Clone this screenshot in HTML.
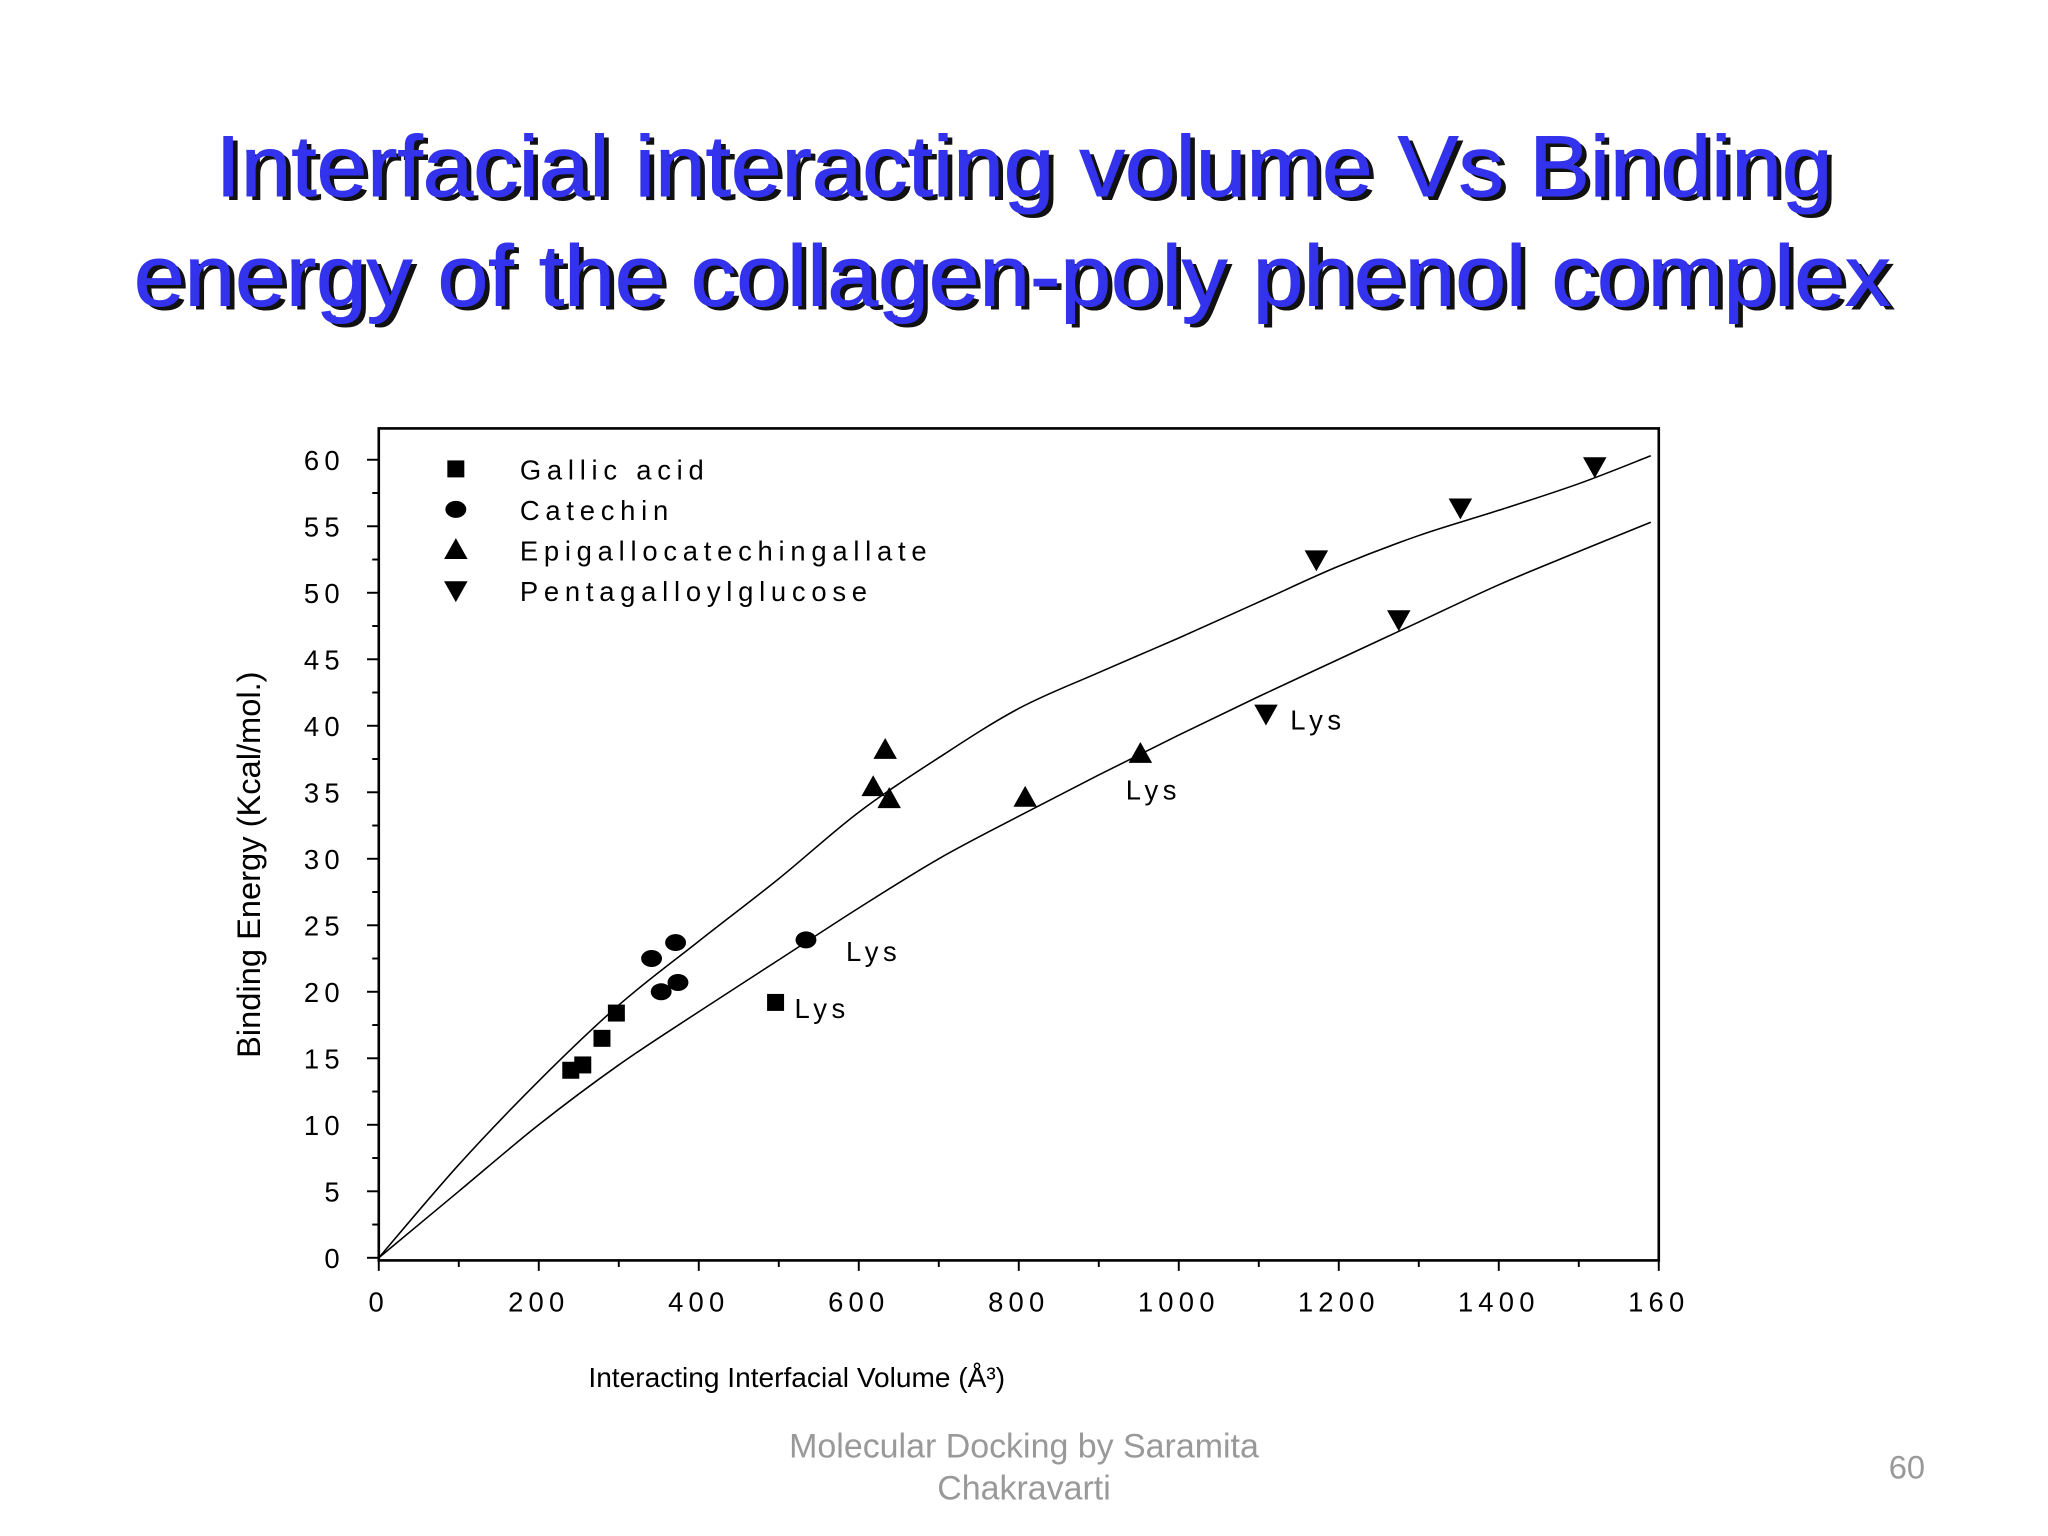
<!DOCTYPE html>
<html><head><meta charset="utf-8"><style>
html,body{margin:0;padding:0;background:#fff;}
svg{display:block;}
.t{font-family:"Liberation Sans",sans-serif;}
</style></head><body>
<svg width="2048" height="1536" viewBox="0 0 1568 1176" xmlns="http://www.w3.org/2000/svg">
<g class="t" font-size="66" text-anchor="middle">
<text x="788" y="153" fill="#111" textLength="1238" lengthAdjust="spacingAndGlyphs">Interfacial interacting volume Vs Binding</text>
<text x="784" y="150" fill="#3333ee" stroke="#3333ee" stroke-width="0.8" textLength="1238" lengthAdjust="spacingAndGlyphs">Interfacial interacting volume Vs Binding</text>
<text x="779" y="237" fill="#111" textLength="1345" lengthAdjust="spacingAndGlyphs">energy of the collagen-poly phenol complex</text>
<text x="775" y="234" fill="#3333ee" stroke="#3333ee" stroke-width="0.8" textLength="1345" lengthAdjust="spacingAndGlyphs">energy of the collagen-poly phenol complex</text>
</g>
<g id="chart"></g>
<text class="t" x="610" y="1062" font-size="21.5" fill="#000" text-anchor="middle">Interacting Interfacial Volume (Å³)</text>
<text class="t" x="199" y="662" font-size="25" fill="#000" text-anchor="middle" transform="rotate(-90 199 662)">Binding Energy (Kcal/mol.)</text>
<text class="t" x="784" y="1116" font-size="26" fill="#999" text-anchor="middle">Molecular Docking by Saramita</text>
<text class="t" x="784" y="1148" font-size="26" fill="#999" text-anchor="middle">Chakravarti</text>
<text class="t" x="1460" y="1132" font-size="25" fill="#999" text-anchor="middle">60</text>
</svg>
<script>
const xTicks=[0,200,400,600,800,1000,1200,1400,1600];
const xTickLabels=["0","200","400","600","800","1000","1200","1400","160"];
const yTicks=[0,5,10,15,20,25,30,35,40,45,50,55,60];
const gallicX=[240,255,279,297,496];
const gallicY=[14.1,14.5,16.5,18.4,19.2];
const catechinX=[341,371,353,374,534];
const catechinY=[22.5,23.7,20,20.7,23.9];
const egcgX=[633,618,638,808,952];
const egcgY=[38.2,35.4,34.5,34.6,37.9];
const pggX=[1172,1352,1520,1275,1109];
const pggY=[52.5,56.4,59.5,48,40.9];
const upperX=[0,100,200,300,400,500,600,700,800,900,1000,1100,1200,1300,1400,1500,1590];
const upperY=[0,7,13.3,19,23.8,28.5,33.5,37.6,41.3,44,46.6,49.3,52,54.3,56.2,58.2,60.3];
const lowerX=[0,100,200,300,400,500,600,700,800,900,1000,1100,1200,1300,1400,1500,1590];
const lowerY=[0,5,10,14.5,18.5,22.4,26.3,30,33.2,36.3,39.3,42.2,45,47.8,50.6,53.1,55.3];
const lysX=[500,535,950,1110];
const lysY=[19.2,23.9,37.9,40.9];
const lysDx=[12,30,-10,18];
const lysDy=[12,16,35,12];
const legendNames=["Gallic acid","Catechin","Epigallocatechingallate","Pentagalloylglucose"];

const NS="http://www.w3.org/2000/svg";
const L=290,R=1270,T=328,B=965,Y0=963,Y60=352;
const sx=v=>L+v*(R-L)/1600;
const sy=v=>Y0-v*(Y0-Y60)/60;
const g=document.getElementById('chart');
function mk(tag,a,parent){const e=document.createElementNS(NS,tag);for(const k in a)e.setAttribute(k,a[k]);(parent||g).appendChild(e);return e;}
const frame=mk('rect',{x:L,y:T,width:R-L,height:B-T,fill:'none',stroke:'#000','stroke-width':2});


for(let v=0;v<=1600;v+=100){const major=v%200===0;const t=mk('line',{x1:sx(v),x2:sx(v),y1:B,y2:B+(major?8:5),stroke:'#000','stroke-width':1.5});

}
xTicks.forEach((v,i)=>{const t=mk('text',{x:sx(v),y:B+39,'font-size':21,'text-anchor':'middle','letter-spacing':'4',class:'t'});t.textContent=xTickLabels[i];

});
for(let v=0;v<=60;v+=2.5){const major=v%5===0;const t=mk('line',{x1:L-(major?9:5),x2:L,y1:sy(v),y2:sy(v),stroke:'#000','stroke-width':1.5});

}
yTicks.forEach(v=>{const t=mk('text',{x:L-26,y:sy(v)+8,'font-size':21,'text-anchor':'end','letter-spacing':'4',class:'t'});t.textContent=String(v);

});
function curve(xs,ys,name){const P=xs.map((x,i)=>[sx(x),sy(ys[i])]);let d='M'+P[0][0]+','+P[0][1];
for(let i=0;i<P.length-1;i++){const p0=P[Math.max(i-1,0)],p1=P[i],p2=P[i+1],p3=P[Math.min(i+2,P.length-1)];
d+=` C${p1[0]+(p2[0]-p0[0])/6},${p1[1]+(p2[1]-p0[1])/6} ${p2[0]-(p3[0]-p1[0])/6},${p2[1]-(p3[1]-p1[1])/6} ${p2[0]},${p2[1]}`;}
const p=mk('path',{d:d,fill:'none',stroke:'#000','stroke-width':1.2});

}
curve(upperX,upperY,'upper-fit-curve');
curve(lowerX,lowerY,'lower-fit-curve');
function marker(type,x,y,name){let e;
if(type===0)e=mk('rect',{x:x-6.5,y:y-6.5,width:13,height:13,fill:'#000'});
else if(type===1)e=mk('ellipse',{cx:x,cy:y,rx:8,ry:6.5,fill:'#000'});
else if(type===2)e=mk('polygon',{points:`${x},${y-9} ${x-9},${y+7} ${x+9},${y+7}`,fill:'#000'});
else e=mk('polygon',{points:`${x},${y+9} ${x-9},${y-7} ${x+9},${y-7}`,fill:'#000'});

}
[[gallicX,gallicY,'gallic-point'],[catechinX,catechinY,'catechin-point'],[egcgX,egcgY,'egcg-point'],[pggX,pggY,'pgg-point']].forEach((s,k)=>{s[0].forEach((x,i)=>marker(k,sx(x),sy(s[1][i]),s[2]));});
lysX.forEach((x,i)=>{const t=mk('text',{x:sx(x)+lysDx[i],y:sy(lysY[i])+lysDy[i],'font-size':21,'letter-spacing':'3.5',class:'t'});t.textContent='Lys';

});
legendNames.forEach((n,i)=>{const y=359+i*31;marker(i,349,y,'legend-marker');const t=mk('text',{x:398,y:y+8,'font-size':21,'letter-spacing':'4.4',class:'t'});t.textContent=n;

});
</script>
</body></html>
